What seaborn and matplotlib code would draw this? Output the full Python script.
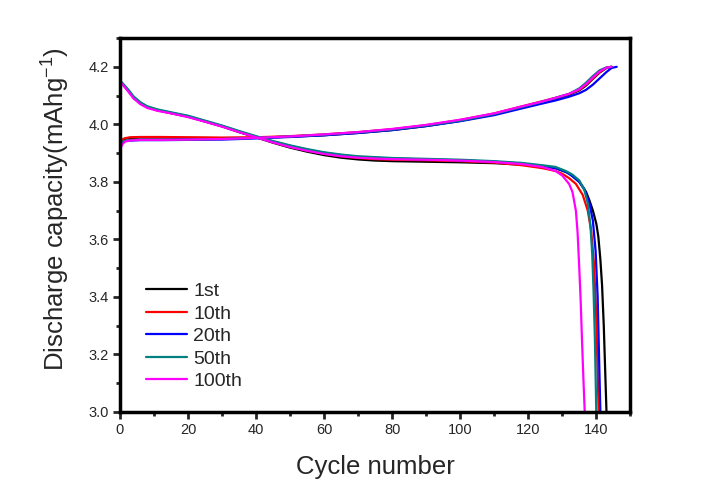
import pandas as pd
import matplotlib
matplotlib.use("Agg")
import matplotlib.pyplot as plt
import seaborn as sns
from matplotlib.ticker import MultipleLocator

# ---------------------------------------------------------
# Datos
# ---------------------------------------------------------
ciclos = ["1st", "10th", "20th", "50th", "100th"]
colores = ["#000000", "#ff0000", "#0000ff", "#008080", "#ff00ff"]

# rama de carga (eje x comun)
carga_x = [0, 0.3, 0.8, 1.5, 3, 6, 12, 20, 30, 40, 50, 60, 70, 80, 90, 100,
           110, 118, 124, 128, 132, 135, 137, 139, 141, 143, 144.5, 146]
carga_1st = [3.92, 3.935, 3.945, 3.95, 3.953, 3.954, 3.954, 3.953, 3.952, 3.953, 3.957, 3.962,
             3.970, 3.980, 3.994, 4.012, 4.035, 4.060, 4.078, 4.090, 4.103, 4.118, 4.135,
             4.158, 4.180, 4.196, 4.20, None]
carga_10th = [3.925, 3.94, 3.948, 3.952, 3.955, 3.956, 3.956, 3.955, 3.954, 3.955, 3.959, 3.965,
              3.973, 3.983, 3.997, 4.015, 4.038, 4.062, 4.080, 4.092, 4.105, 4.120, 4.138,
              4.160, 4.182, 4.197, 4.20, None]
carga_20th = [3.915, 3.93, 3.938, 3.942, 3.944, 3.945, 3.945, 3.946, 3.947, 3.951, 3.956, 3.962,
              3.970, 3.980, 3.994, 4.011, 4.032, 4.055, 4.072, 4.083, 4.096, 4.108, 4.120,
              4.138, 4.160, 4.182, 4.196, 4.20]
carga_50th = [3.915, 3.932, 3.94, 3.943, 3.945, 3.946, 3.946, 3.947, 3.949, 3.953, 3.958, 3.964,
              3.972, 3.982, 3.996, 4.013, 4.036, 4.060, 4.078, 4.092, 4.106, 4.125, 4.145,
              4.168, 4.188, 4.198, 4.20, None]
carga_100th = [3.90, 3.92, 3.932, 3.94, 3.944, 3.946, 3.946, 3.947, 3.949, 3.953, 3.958, 3.965,
               3.973, 3.984, 3.998, 4.016, 4.038, 4.062, 4.079, 4.092, 4.106, 4.122, 4.140,
               4.163, 4.184, 4.197, 4.20, None]

# rama de descarga: tramo comun hasta 124 ciclos
descarga_x = [0, 1, 2.5, 4, 6, 8, 11, 15, 20, 25, 30, 35, 40, 45, 50, 55, 60, 65, 70, 75,
              80, 90, 100, 110, 118, 124]
descarga_1st = [4.15, 4.137, 4.116, 4.093, 4.073, 4.06, 4.049, 4.039, 4.027, 4.01, 3.993, 3.973,
                3.955, 3.936, 3.919, 3.905, 3.893, 3.884, 3.878, 3.874, 3.872, 3.870, 3.868,
                3.865, 3.860, 3.855]
descarga_10th = [4.15, 4.137, 4.116, 4.093, 4.073, 4.06, 4.049, 4.039, 4.027, 4.01, 3.993, 3.974,
                 3.956, 3.938, 3.922, 3.909, 3.898, 3.889, 3.883, 3.879, 3.877, 3.875, 3.872,
                 3.867, 3.858, 3.848]
descarga_20th = [4.15, 4.138, 4.117, 4.094, 4.074, 4.06, 4.05, 4.04, 4.028, 4.011, 3.994, 3.975,
                 3.957, 3.94, 3.925, 3.912, 3.901, 3.893, 3.887, 3.884, 3.881, 3.878, 3.875,
                 3.870, 3.864, 3.855]
descarga_50th = [4.152, 4.14, 4.12, 4.097, 4.077, 4.063, 4.052, 4.042, 4.03, 4.013, 3.996, 3.977,
                 3.959, 3.942, 3.927, 3.914, 3.903, 3.895, 3.889, 3.886, 3.883, 3.880, 3.877,
                 3.872, 3.866, 3.858]
descarga_100th = [4.148, 4.135, 4.113, 4.09, 4.07, 4.057, 4.047, 4.038, 4.025, 4.009, 3.992, 3.973,
                  3.955, 3.937, 3.921, 3.908, 3.897, 3.889, 3.884, 3.881, 3.879, 3.877, 3.874,
                  3.869, 3.862, 3.852]

# caida final de cada ciclo
cola_1st_x = [128, 132, 135, 137, 138, 139, 140, 140.6, 141.2, 141.7, 142.2, 142.6, 143]
cola_1st_y = [3.848, 3.83, 3.80, 3.765, 3.735, 3.70, 3.655, 3.61, 3.53, 3.44, 3.30, 3.15, 3.0]
cola_10th_x = [128, 130, 132, 134, 136, 137.5, 138.5, 139.3, 139.9, 140.3, 140.7]
cola_10th_y = [3.838, 3.828, 3.813, 3.793, 3.755, 3.70, 3.63, 3.52, 3.36, 3.18, 3.0]
cola_20th_x = [128, 131, 133, 135, 136.5, 138, 139, 139.8, 140.4, 140.8, 141.2]
cola_20th_y = [3.848, 3.835, 3.82, 3.80, 3.775, 3.725, 3.665, 3.56, 3.40, 3.20, 3.0]
cola_50th_x = [128, 131, 133, 135, 136.5, 137.5, 138.3, 138.8, 139.2, 139.6, 140]
cola_50th_y = [3.852, 3.838, 3.825, 3.805, 3.772, 3.725, 3.645, 3.55, 3.42, 3.25, 3.0]
cola_100th_x = [128, 130, 132, 133, 134, 134.5, 135, 135.4, 135.8, 136.2, 136.6]
cola_100th_y = [3.838, 3.822, 3.793, 3.765, 3.70, 3.625, 3.50, 3.39, 3.25, 3.12, 3.0]

# ---------------------------------------------------------
# Tabla larga para seaborn
# ---------------------------------------------------------
cargas = [carga_1st, carga_10th, carga_20th, carga_50th, carga_100th]
descargas = [descarga_1st, descarga_10th, descarga_20th, descarga_50th, descarga_100th]
colas_x = [cola_1st_x, cola_10th_x, cola_20th_x, cola_50th_x, cola_100th_x]
colas_y = [cola_1st_y, cola_10th_y, cola_20th_y, cola_50th_y, cola_100th_y]

filas = []
for nombre, ch, dis, cx, cy in zip(ciclos, cargas, descargas, colas_x, colas_y):
    for x, y in zip(carga_x, ch):
        filas.append((nombre, "carga", x, y))
    for x, y in zip(descarga_x + cx, dis + cy):
        filas.append((nombre, "descarga", x, y))
df = pd.DataFrame(filas, columns=["Ciclo", "Rama", "Cycle", "Valor"]).dropna()

# ---------------------------------------------------------
# Grafica
# ---------------------------------------------------------
sns.set_style("white")
plt.rcParams["font.family"] = ["Liberation Sans", "DejaVu Sans"]
plt.rcParams["mathtext.fontset"] = "custom"
plt.rcParams["mathtext.rm"] = "Liberation Sans"

fig = plt.figure(figsize=(7.27, 4.94), dpi=100)
ax = fig.add_axes([0.165, 0.166, 0.702, 0.757])

sns.lineplot(data=df, x="Cycle", y="Valor", hue="Ciclo", units="Rama",
             estimator=None, sort=False, hue_order=ciclos,
             palette=dict(zip(ciclos, colores)), linewidth=1.6, ax=ax)

ax.set_xlim(0, 150)
ax.set_ylim(3.0, 4.3)
ax.xaxis.set_major_locator(MultipleLocator(20))
ax.xaxis.set_minor_locator(MultipleLocator(10))
ax.yaxis.set_major_locator(MultipleLocator(0.2))
ax.yaxis.set_minor_locator(MultipleLocator(0.1))
ax.yaxis.set_major_formatter(matplotlib.ticker.FormatStrFormatter("%.1f"))

for lado in ax.spines.values():
    lado.set_linewidth(2.5)
    lado.set_color("black")
ax.tick_params(which="major", direction="out", length=5, width=2, labelsize=10.5,
               bottom=True, left=True, top=False, right=False, pad=3)
ax.tick_params(which="minor", direction="out", length=3, width=2,
               bottom=True, left=True, top=False, right=False)

ax.set_xlabel("Cycle number", fontsize=18.5, labelpad=13)
ax.set_ylabel(r"Discharge capacity(mAhg$^{\mathregular{-1}}$)", fontsize=18.5)
ax.yaxis.set_label_coords(-0.095, 0.543)

ax.legend(loc="upper left", bbox_to_anchor=(0.035, 0.367), frameon=False,
          fontsize=14, handlelength=2.15, handletextpad=0.3, labelspacing=0.25,
          borderaxespad=0)

fig.savefig("out.png", dpi=100)
plt.close(fig)
